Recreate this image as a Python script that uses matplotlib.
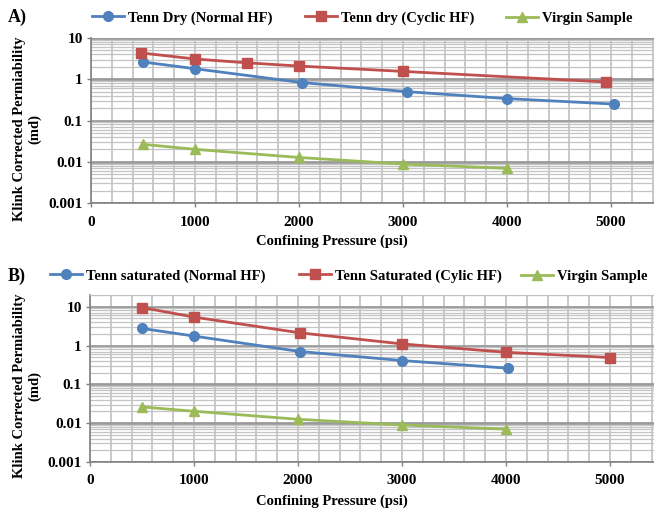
import matplotlib
matplotlib.use("Agg")
import matplotlib.pyplot as plt
from matplotlib.ticker import LogLocator, FixedLocator, MultipleLocator, NullFormatter

# panel A (dry samples)
a_normal_x = [500, 1000, 2030, 3040, 4000, 5030]
a_normal_y = [2.62, 1.80, 0.83, 0.50, 0.34, 0.25]
a_cyclic_x = [480, 1000, 1500, 2000, 3000, 4950]
a_cyclic_y = [4.35, 3.10, 2.50, 2.09, 1.55, 0.86]
a_virgin_x = [500, 1000, 2000, 3000, 4000]
a_virgin_y = [0.0265, 0.0200, 0.0127, 0.0088, 0.0069]

# panel B (saturated samples)
b_normal_x = [500, 1000, 2020, 3000, 4020]
b_normal_y = [2.75, 1.75, 0.70, 0.41, 0.26]
b_cyclic_x = [500, 1000, 2020, 3000, 4000, 5000]
b_cyclic_y = [9.5, 5.4, 2.12, 1.10, 0.67, 0.49]
b_virgin_x = [500, 1000, 2000, 3000, 4000]
b_virgin_y = [0.0262, 0.0203, 0.0126, 0.0090, 0.0070]

labels_a = ['Tenn Dry (Normal HF)', 'Tenn dry (Cyclic HF)', 'Virgin Sample']
labels_b = ['Tenn saturated (Normal HF)', 'Tenn Saturated (Cylic HF)', 'Virgin Sample']

y_ticks = [0.001, 0.01, 0.1, 1, 10]
y_ticklabels = ['0.001', '0.01', '0.1', '1', '10']
x_ticks = [0, 1000, 2000, 3000, 4000, 5000]

BLUE = '#4F81BD'
RED = '#C0504D'
GREEN = '#9BBB59'

plt.rcParams['font.family'] = ['Liberation Serif', 'DejaVu Serif']
plt.rcParams['font.weight'] = 'bold'

W, H = 654, 509
fig = plt.figure(figsize=(W / 100, H / 100), dpi=100)


def px_axes(left, top, bottom, width_px):
    return fig.add_axes([left / W, 1 - bottom / H, width_px / W, (bottom - top) / H])


def style_axes(ax, ytop):
    ax.set_yscale('log')
    ax.set_xlim(0, 6000)
    ax.set_ylim(0.001, ytop)
    ax.yaxis.set_major_locator(FixedLocator(y_ticks))
    ax.set_yticklabels(y_ticklabels)
    ax.yaxis.set_minor_locator(LogLocator(base=10, subs=range(2, 10)))
    ax.yaxis.set_minor_formatter(NullFormatter())
    ax.xaxis.set_major_locator(FixedLocator(x_ticks))
    ax.xaxis.set_minor_locator(MultipleLocator(200))
    ax.grid(which='minor', axis='y', color='#c4c4c4', lw=0.9)
    ax.grid(which='major', axis='y', color='#9a9a9a', lw=2.0)
    ax.grid(which='both', axis='x', color='#c0c0c0', lw=1.2)
    ax.set_axisbelow(True)
    for s in ['top', 'right']:
        ax.spines[s].set_visible(False)
    for s in ['left', 'bottom']:
        ax.spines[s].set_color('#808080')
        ax.spines[s].set_linewidth(1.2)
    ax.tick_params(axis='both', which='major', length=3, width=1, color='#808080',
                   labelsize=11, pad=3)
    ax.tick_params(axis='x', which='major', pad=6)
    ax.tick_params(which='minor', length=0)
    for lab in ax.get_xticklabels() + ax.get_yticklabels():
        lab.set_fontweight('bold')


def plot_panel(ax, series, labels):
    styles = [(BLUE, 'o'), (RED, 's'), (GREEN, '^')]
    handles = []
    for (xs, ys), lab, (c, m) in zip(series, labels, styles):
        h, = ax.plot(xs, ys, color=c, marker=m, ms=7, lw=2, label=lab, clip_on=False)
        handles.append(h)
    return handles


def add_legend(handles, labels, x_starts, y):
    for h, lab, x in zip(handles, labels, x_starts):
        fig.legend(handles=[h], labels=[lab], frameon=False, loc='center left',
                   bbox_to_anchor=(x / W, 1 - y / H), borderpad=0, borderaxespad=0,
                   handlelength=2.2, handletextpad=0.25,
                   prop={'size': 10.5, 'weight': 'bold'})


# panel A
ax_a = px_axes(91, 38, 203, 624)
style_axes(ax_a, 10)
h_a = plot_panel(ax_a, [(a_normal_x, a_normal_y), (a_cyclic_x, a_cyclic_y),
                        (a_virgin_x, a_virgin_y)], labels_a)

# panel B
ax_b = px_axes(90, 295, 462, 624)
style_axes(ax_b, 20)
ax_b.spines['top'].set_visible(True)
ax_b.spines['top'].set_color('#c0c0c0')
h_b = plot_panel(ax_b, [(b_normal_x, b_normal_y), (b_cyclic_x, b_cyclic_y),
                        (b_virgin_x, b_virgin_y)], labels_b)

add_legend(h_a, labels_a, [92, 305, 506], 18)
add_legend(h_b, labels_b, [50, 299, 521], 276)

# panel letters
fig.text(8 / W, 1 - 17 / H, 'A)', fontsize=13, fontweight='bold', va='center')
fig.text(8 / W, 1 - 276 / H, 'B)', fontsize=13, fontweight='bold', va='center')

# axis titles
ylab = 'Klink Corrected Permiability\n(md)'
fig.text(27 / W, 1 - 129 / H, ylab, rotation=90, ha='center', va='center',
         multialignment='center', fontsize=10.5, fontweight='bold', linespacing=1.15)
fig.text(27 / W, 1 - 386 / H, ylab, rotation=90, ha='center', va='center',
         multialignment='center', fontsize=10.5, fontweight='bold', linespacing=1.15)
fig.text(332 / W, 1 - 241 / H, 'Confining Pressure (psi)', ha='center', va='center',
         fontsize=10.5, fontweight='bold')
fig.text(332 / W, 1 - 501 / H, 'Confining Pressure (psi)', ha='center', va='center',
         fontsize=10.5, fontweight='bold')

fig.savefig('out.png', dpi=100)
